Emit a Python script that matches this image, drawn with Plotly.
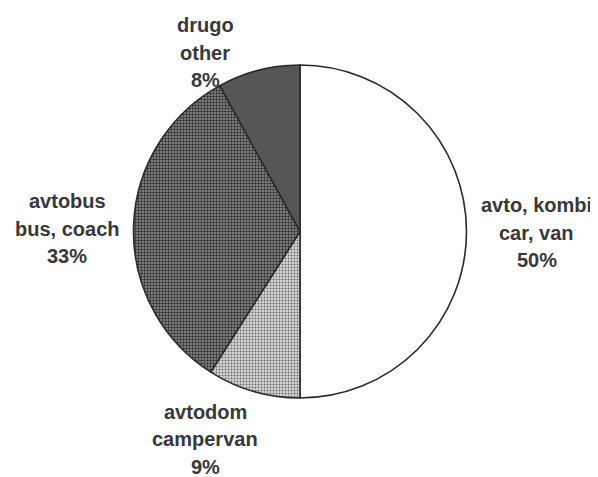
import plotly.graph_objects as go

categories = ["avto, kombi", "avtodom", "avtobus", "drugo"]
label_lines = [
    ["avto, kombi", "car, van", "50%"],
    ["avtodom", "campervan", "9%"],
    ["avtobus", "bus, coach", "33%"],
    ["drugo", "other", "8%"],
]
values = [50, 9, 33, 8]
# anchor of each label's middle line (paper coords)
label_x = [0.8966, 0.3339, 0.100, 0.3339]
label_y = [0.5203, 0.0810, 0.5288, 0.9051]
LINE_GAP = 27.5  # px between label lines

fig = go.Figure()
fig.add_trace(go.Pie(
    labels=categories,
    values=values,
    sort=False,
    direction="clockwise",
    rotation=0,
    textinfo="none",
    hoverinfo="label+percent",
    showlegend=False,
    domain=dict(x=[0.2127, 0.7771], y=[0.1685, 0.8785]),
    marker=dict(
        colors=["#ffffff", "#c4c4c4", "#7a7a7a", "#565656"],
        line=dict(color="#2a2a2a", width=1.6),
        pattern=dict(
            shape=["", ".", ".", ""],
            fgcolor=["#ffffff", "#6a6a6a", "#2e2e2e", "#565656"],
            bgcolor=["#ffffff", "#d8d8d8", "#949494", "#565656"],
            size=3,
            solidity=[0, 0.35, 0.5, 0],
            fillmode="replace",
        ),
    ),
))

for lines, x, y in zip(label_lines, label_x, label_y):
    for i, line in enumerate(lines):
        fig.add_annotation(
            x=x, y=y, xref="paper", yref="paper",
            yshift=(1 - i) * LINE_GAP,
            text=line,
            showarrow=False, xanchor="center", yanchor="middle",
            font=dict(family="Liberation Sans, Arial", size=20, color="#383838", weight="bold"),
        )

# page body has an 8px default margin, so the figure is 8px smaller than the window
fig.update_layout(
    width=590, height=469,
    margin=dict(l=0, r=0, t=0, b=0),
    paper_bgcolor="#ffffff",
    plot_bgcolor="#ffffff",
)
fig.write_html("out.html")
